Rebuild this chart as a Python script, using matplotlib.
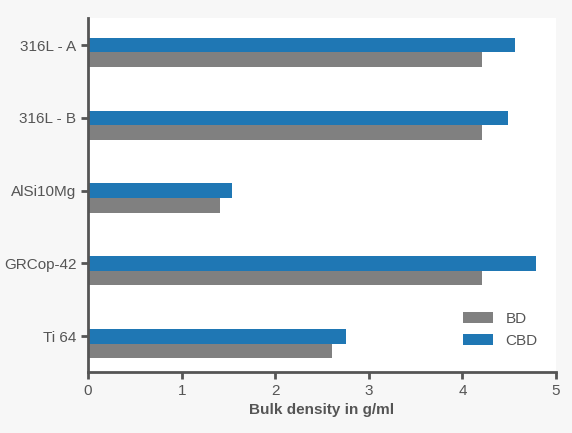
import numpy as np
import matplotlib
matplotlib.use("Agg")
import matplotlib.pyplot as plt

categories = ["Ti 64", "GRCop-42", "AlSi10Mg", "316L - B", "316L - A"]
bd_values = [2.61, 4.21, 1.41, 4.21, 4.21]
cbd_values = [2.76, 4.79, 1.54, 4.49, 4.56]

plt.rcParams['font.family'] = ['Liberation Sans', 'DejaVu Sans']

fig = plt.figure(figsize=(5.72, 4.33), dpi=100, facecolor='#f7f7f7')
ax = fig.add_axes([0.154, 0.141, 0.818, 0.817])
ax.set_facecolor('white')

y = np.arange(len(categories))
h = 0.2
ax.barh(y - h, bd_values, height=h, color='#808080', label='BD')
ax.barh(y, cbd_values, height=h, color='#1f77b4', label='CBD')

ax.set_xlim(0, 5)
ax.set_ylim(-0.49, 4.37)
ax.set_yticks(y)
ax.set_yticklabels(categories)
ax.set_xlabel("Bulk density in g/ml", fontsize=11, fontweight='bold', color='#555555')

for s in ['top', 'right']:
    ax.spines[s].set_visible(False)
for s in ['left', 'bottom']:
    ax.spines[s].set_color('#555555')
    ax.spines[s].set_linewidth(2)
ax.tick_params(colors='#555555', labelsize=11, width=2, length=5)

ax.legend(loc='lower right', frameon=False, fontsize=11, labelcolor='#555555',
          bbox_to_anchor=(0.99, 0.03))

fig.savefig("out.png", dpi=100, facecolor=fig.get_facecolor())
